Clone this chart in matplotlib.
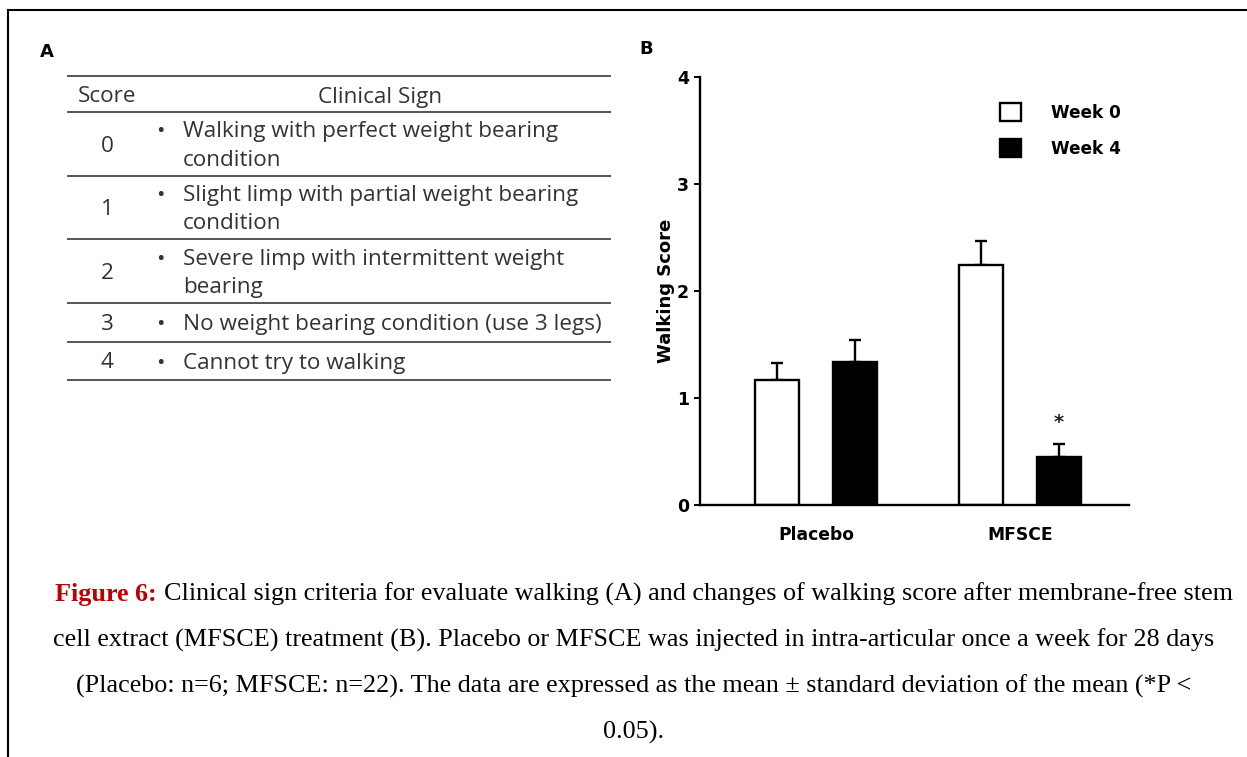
import numpy as np
import matplotlib
matplotlib.use('Agg')
import matplotlib.pyplot as plt
from matplotlib.lines import Line2D
from matplotlib.patches import Patch

# data
scores = ['0', '1', '2', '3', '4']
signs = [['Walking with perfect weight bearing', 'condition'],
         ['Slight limp with partial weight bearing', 'condition'],
         ['Severe limp with intermittent weight', 'bearing'],
         ['No weight bearing condition (use 3 legs)'],
         ['Cannot try to walking']]
groups = ['Placebo', 'MFSCE']
week0 = [1.17, 2.24]
week4 = [1.34, 0.45]
err0 = [0.16, 0.23]
err4 = [0.20, 0.12]
series = ['Week 0', 'Week 4']

W, H = 1247, 757
fig = plt.figure(figsize=(W / 100, H / 100), dpi=100)

def fx(x):
    return x / W

def fy(y):
    return 1 - y / H

# outer frame
fig.add_artist(Line2D([fx(8), 1], [fy(10), fy(10)], color='black', lw=1.5))
fig.add_artist(Line2D([fx(8), fx(8)], [fy(10), 0], color='black', lw=1.5))

# ---- panel A: table ----
tfont = 'Open Sans'
tcol = '#333333'
tsize = 16.2
fig.text(fx(47), fy(52), 'A', fontsize=13, fontweight='bold', ha='center', va='center')
rows_y = [76, 112, 176, 239, 303, 342, 380]
for y in rows_y:
    fig.add_artist(Line2D([fx(68), fx(610)], [fy(y), fy(y)], color='#555555', lw=1.4))
fig.text(fx(107), fy(97), 'Score', fontsize=tsize, family=tfont, color=tcol, ha='center', va='center')
fig.text(fx(380), fy(97), 'Clinical Sign', fontsize=tsize, family=tfont, color=tcol, ha='center', va='center')
for i, (s, t) in enumerate(zip(scores, signs)):
    yc = (rows_y[i + 1] + rows_y[i + 2]) / 2 + 2
    fig.text(fx(107), fy(yc), s, fontsize=tsize, family=tfont, color=tcol, ha='center', va='center')
    ys = [yc - 14 * (len(t) - 1) + 28 * k for k in range(len(t))]
    fig.text(fx(160), fy(ys[0]), '\u2022', fontsize=tsize, family=tfont, color=tcol,
             ha='center', va='center')
    for line, yy in zip(t, ys):
        fig.text(fx(183), fy(yy), line, fontsize=tsize, family=tfont, color=tcol,
                 ha='left', va='center')

# ---- panel B: bar chart ----
ax = fig.add_axes([fx(700), fy(505), fx(1129) - fx(700), fy(77) - fy(505)])
x = np.arange(len(groups))
off = 0.19
bw = 0.216
ax.bar(x - off, week0, bw, color='white', edgecolor='black', linewidth=1.7, zorder=2)
ax.bar(x + off, week4, bw, color='black', edgecolor='black', linewidth=1.7, zorder=2)
ax.errorbar(x - off, week0, yerr=[np.zeros(2), err0], fmt='none', ecolor='black',
            elinewidth=1.7, capsize=4, capthick=1.7, zorder=1)
ax.errorbar(x + off, week4, yerr=[np.zeros(2), err4], fmt='none', ecolor='black',
            elinewidth=1.7, capsize=4, capthick=1.7, zorder=1)
ax.text(x[1] + off, week4[1] + err4[1] + 0.2, '*', ha='center', va='center',
        fontsize=14, fontweight='bold', color='#222222')

ax.set_xlim(-0.569, 1.534)
ax.set_ylim(0, 4)
ax.set_yticks([0, 1, 2, 3, 4])
ax.set_xticks(x)
ax.set_xticklabels(groups, fontsize=12.3, fontweight='bold')
for lbl in ax.get_yticklabels():
    lbl.set_fontsize(12.5)
    lbl.set_fontweight('bold')
ax.tick_params(axis='x', length=0, pad=15)
ax.tick_params(axis='y', direction='out', length=4, width=1.4, pad=4)
ax.spines['top'].set_visible(False)
ax.spines['right'].set_visible(False)
ax.spines['left'].set_linewidth(1.7)
ax.spines['bottom'].set_linewidth(1.7)
ax.set_ylabel('Walking Score', fontsize=13, fontweight='bold', labelpad=1)
fig.text(fx(646), fy(49), 'B', fontsize=13, fontweight='bold', ha='center', va='center')

handles = [Patch(facecolor='white', edgecolor='black', linewidth=1.7),
           Patch(facecolor='black', edgecolor='black', linewidth=1.7)]
leg = ax.legend(handles, series, loc='upper left', bbox_to_anchor=(0.664, 0.975), frameon=False,
                prop={'weight': 'bold', 'size': 12.2}, handlelength=1.25, handleheight=1.25,
                handletextpad=1.75, labelspacing=1.05)

# ---- caption ----
cfont = 'Liberation Serif'
csize = 18.8
cap_lines = ['Clinical sign criteria for evaluate walking (A) and changes of walking score after membrane-free stem',
             'cell extract (MFSCE) treatment (B). Placebo or MFSCE was injected in intra-articular once a week for 28 days',
             '(Placebo: n=6; MFSCE: n=22). The data are expressed as the mean \u00b1 standard deviation of the mean (*P <',
             '0.05).']
cap_y = [594, 640, 686, 732]
r = fig.canvas.get_renderer()
prefix = fig.text(0, 0, 'Figure 6: ', fontsize=csize, family=cfont, fontweight='bold', color='#c00000')
rest = fig.text(0, 0, cap_lines[0], fontsize=csize, family=cfont)
w1 = prefix.get_window_extent(r).width
w2 = rest.get_window_extent(r).width
x0 = 644 - (w1 + w2) / 2
prefix.set_position((fx(x0), fy(cap_y[0])))
prefix.set_va('center')
rest.set_position((fx(x0 + w1), fy(cap_y[0])))
rest.set_va('center')
for line, y in zip(cap_lines[1:], cap_y[1:]):
    fig.text(fx(634), fy(y), line, fontsize=csize, family=cfont, ha='center', va='center')

fig.savefig('out.png', dpi=100)
